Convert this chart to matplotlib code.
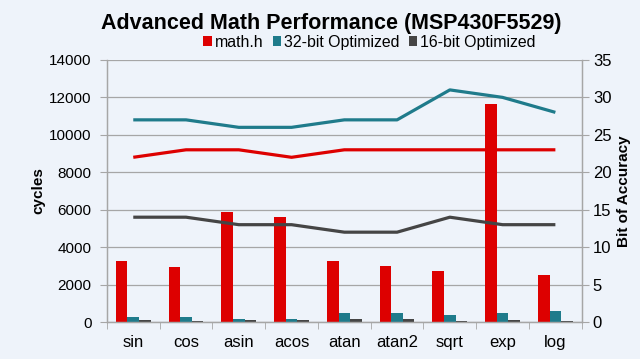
import matplotlib
matplotlib.use('Agg')
import matplotlib.pyplot as plt
import numpy as np

plt.rcParams['font.family'] = ['Liberation Sans', 'DejaVu Sans']

functions = ['sin', 'cos', 'asin', 'acos', 'atan', 'atan2', 'sqrt', 'exp', 'log']
series = ['math.h', '32-bit Optimized', '16-bit Optimized']

# cycles (bars, left axis)
cycles_mathh = [3270, 2920, 5880, 5600, 3240, 3000, 2720, 11650, 2530]
cycles_32bit = [250, 250, 180, 180, 500, 500, 370, 500, 590]
cycles_16bit = [100, 50, 100, 100, 180, 180, 80, 130, 60]

# bits of accuracy (lines, right axis)
acc_mathh = [22, 23, 23, 22, 23, 23, 23, 23, 23]
acc_32bit = [27, 27, 26, 26, 27, 27, 31, 30, 28]
acc_16bit = [14, 14, 13, 13, 12, 12, 14, 13, 13]

colors = ['#DD0000', '#1F7B8B', '#454545']
bg = '#EEF3FA'
axis_grey = '#A6A6A6'

fig = plt.figure(figsize=(6.4, 3.59), dpi=100, facecolor=bg)
ax = fig.add_axes([0.167, 0.103, 0.742, 0.730])
ax.set_facecolor(bg)
ax2 = ax.twinx()

x = np.arange(len(functions))
w = 0.22
for i, (vals, c) in enumerate(zip([cycles_mathh, cycles_32bit, cycles_16bit], colors)):
    ax.bar(x + (i - 1) * w, vals, w, color=c, label=series[i], zorder=2)

for vals, c in zip([acc_mathh, acc_32bit, acc_16bit], colors):
    ax2.plot(x, vals, color=c, lw=2.3, solid_capstyle='butt')

ax.set_xlim(-0.5, len(functions) - 0.5)
ax.set_ylim(0, 14000)
ax.set_yticks(np.arange(0, 14001, 2000))
ax2.set_ylim(0, 35)
ax2.set_yticks(np.arange(0, 36, 5))

ax.set_xticks(x)
ax.set_xticklabels(functions, fontsize=12)
ax.set_xticks(np.arange(-0.5, len(functions), 1), minor=True)
ax.tick_params(axis='x', which='major', length=0, pad=9)
ax.tick_params(axis='x', which='minor', length=5, color=axis_grey)
ax.tick_params(axis='y', length=5, color=axis_grey, labelsize=11, pad=6)
ax2.tick_params(axis='y', length=5, color=axis_grey, labelsize=12, pad=3)

ax.yaxis.grid(True, color=axis_grey, lw=0.9, zorder=0)
ax.set_axisbelow(True)

for a in (ax, ax2):
    a.spines['top'].set_visible(False)
    for s in ('left', 'right', 'bottom'):
        a.spines[s].set_color(axis_grey)
        a.spines[s].set_linewidth(0.9)

ax.set_ylabel('cycles', fontsize=11, fontweight='bold', labelpad=3)
ax2.set_ylabel('Bit of Accuracy', fontsize=11, fontweight='bold', labelpad=4)

fig.suptitle('Advanced Math Performance (MSP430F5529)', x=0.517, y=0.963,
             fontsize=15.5, fontweight='bold')
fig.legend(loc='center', bbox_to_anchor=(0.577, 0.882), ncol=3, frameon=False,
           fontsize=11.4, handlelength=0.55, handleheight=0.55, handletextpad=0.15,
           columnspacing=0.6)

fig.savefig('out.png', dpi=100, facecolor=bg)
